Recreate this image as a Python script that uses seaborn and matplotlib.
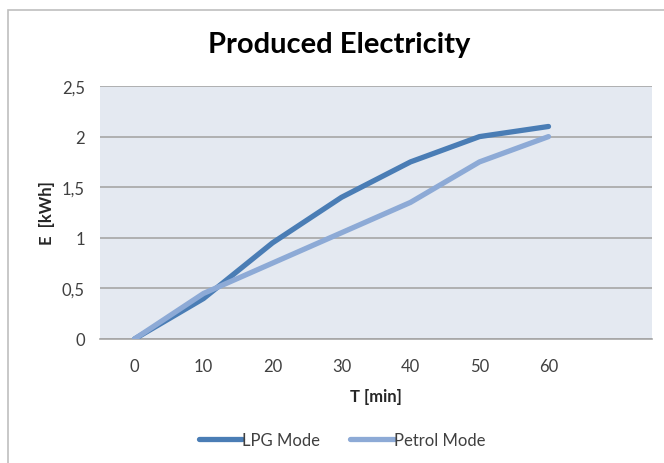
import matplotlib
matplotlib.use("Agg")
import matplotlib.pyplot as plt
import seaborn as sns
import pandas as pd
from matplotlib.patches import Rectangle
from matplotlib.lines import Line2D

# Data
time_min = [0, 10, 20, 30, 40, 50, 60]
lpg_mode = [0, 0.4, 0.95, 1.4, 1.75, 2.0, 2.1]
petrol_mode = [0, 0.45, 0.75, 1.05, 1.35, 1.75, 2.0]
series_names = ["LPG Mode", "Petrol Mode"]
y_ticks = [0, 0.5, 1, 1.5, 2, 2.5]
y_tick_labels = ["0", "0,5", "1", "1,5", "2", "2,5"]

df = pd.DataFrame({
    "T": time_min * 2,
    "E": lpg_mode + petrol_mode,
    "Series": [series_names[0]] * len(time_min) + [series_names[1]] * len(time_min),
})

sns.set_theme(style="white")
plt.rcParams["font.family"] = ["Lato", "DejaVu Sans"]

fig = plt.figure(figsize=(6.64, 4.64), dpi=100)
ax = fig.add_axes([100 / 664, (464 - 340) / 464, 552 / 664, 253 / 464])
ax.set_facecolor("#E4E9F1")

palette = {"LPG Mode": "#4A7DB5", "Petrol Mode": "#8DAAD6"}
sns.lineplot(data=df, x="T", y="E", hue="Series", palette=palette,
             linewidth=3.8, ax=ax, legend=False, solid_capstyle="round",
             zorder=3)
for line in ax.lines:
    line.set_solid_joinstyle("round")

ax.set_xlim(-5, 75)
ax.set_ylim(0, 2.5)
ax.set_xticks(time_min)
ax.set_xticklabels([str(t) for t in time_min])
ax.set_yticks(y_ticks)
ax.set_yticklabels(y_tick_labels)
ax.yaxis.grid(True, color="#A6A6A6", linewidth=1.2, zorder=1)
ax.set_axisbelow(True)
for s in ["left", "right", "top"]:
    ax.spines[s].set_visible(False)
ax.spines["bottom"].set_color("#A6A6A6")
ax.spines["bottom"].set_linewidth(1.2)
ax.tick_params(axis="both", length=0, labelsize=12, colors="#404040")
ax.tick_params(axis="y", pad=11)
ax.tick_params(axis="x", pad=14)

ax.set_xlabel("T [min]", fontsize=12, fontweight="bold", color="#262626", labelpad=10)
ax.set_ylabel("E  [kWh]", fontsize=12, fontweight="bold", color="#262626", labelpad=5)

fig.text(339 / 664, 1 - 45 / 464, "Produced Electricity", ha="center", va="center",
         fontsize=21, fontweight="bold", color="#000000")

handles = [Line2D([0], [0], color=palette[n], linewidth=3.8, solid_capstyle="round")
           for n in series_names]
fig.legend(handles, series_names, loc="center", bbox_to_anchor=(342 / 664, 1 - 441 / 464),
           ncol=2, frameon=False, fontsize=12, handlelength=2.6, handletextpad=0.0,
           columnspacing=1.8, labelcolor="#404040")

# outer chart frame (left and top visible)
fig.patches.append(Rectangle((8 / 664, -0.05), 1.2, 1 - 11 / 464 + 0.05,
                             transform=fig.transFigure, fill=False,
                             edgecolor="#BFBFBF", linewidth=1.2))

fig.savefig("out.png", dpi=100, facecolor="white")
